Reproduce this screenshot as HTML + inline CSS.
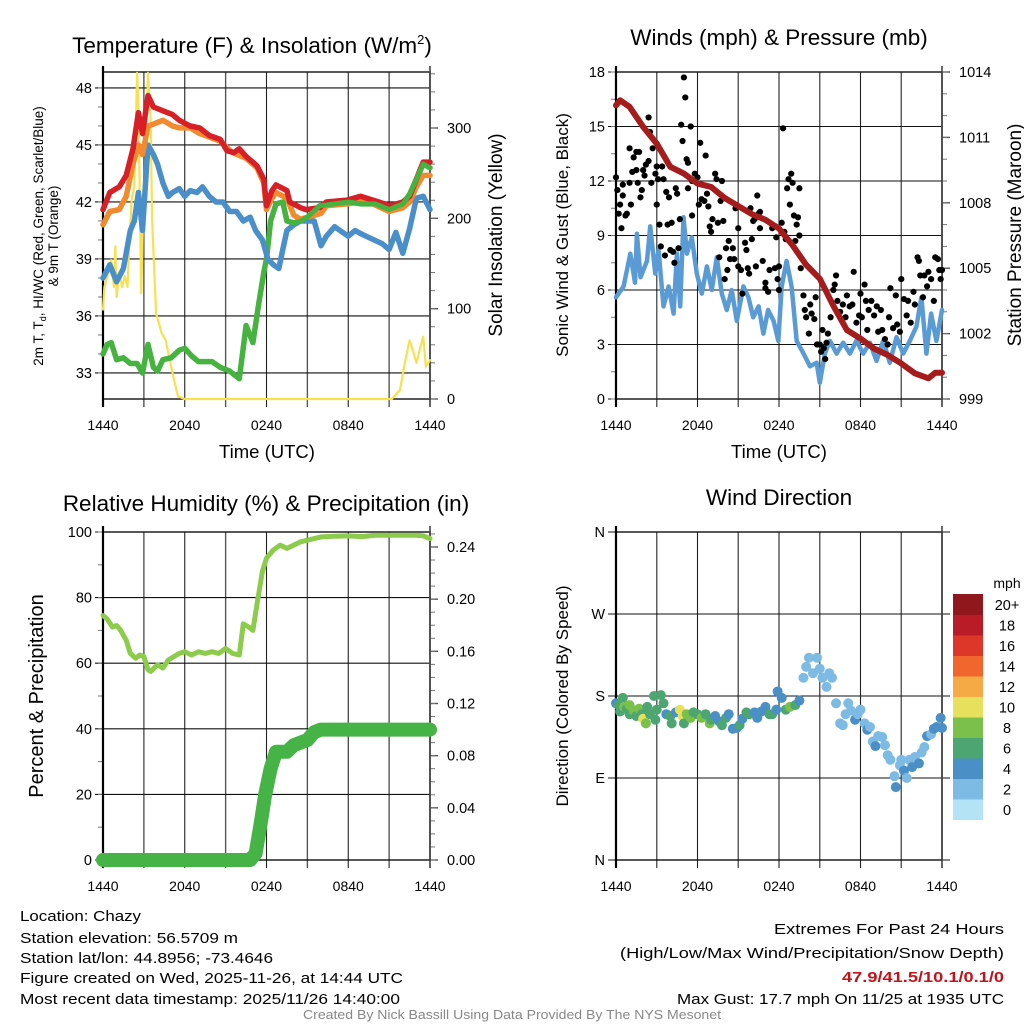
<!DOCTYPE html>
<html><head><meta charset="utf-8">
<style>
html,body{margin:0;padding:0;background:#fff;}
svg{display:block;font-family:"Liberation Sans",sans-serif;}
</style></head>
<body>
<svg id="chart" width="1024" height="1024" viewBox="0 0 1024 1024" xmlns="http://www.w3.org/2000/svg">
<rect width="1024" height="1024" fill="#fff"/>
<g id="layer"></g>
<g font-size="14.5" fill="#000">
<text x="20" y="921" textLength="121" lengthAdjust="spacingAndGlyphs">Location: Chazy</text>
<text x="20" y="943" textLength="218" lengthAdjust="spacingAndGlyphs">Station elevation: 56.5709 m</text>
<text x="20" y="963" textLength="253" lengthAdjust="spacingAndGlyphs">Station lat/lon: 44.8956; -73.4646</text>
<text x="20" y="983" textLength="383" lengthAdjust="spacingAndGlyphs">Figure created on Wed, 2025-11-26, at 14:44 UTC</text>
<text x="20" y="1004" textLength="380" lengthAdjust="spacingAndGlyphs">Most recent data timestamp: 2025/11/26 14:40:00</text>
<text x="1004" y="934" text-anchor="end" textLength="230" lengthAdjust="spacingAndGlyphs">Extremes For Past 24 Hours</text>
<text x="1004" y="958" text-anchor="end" textLength="384" lengthAdjust="spacingAndGlyphs">(High/Low/Max Wind/Precipitation/Snow Depth)</text>
<text x="1004" y="982" text-anchor="end" fill="#c0141c" font-weight="bold" textLength="162" lengthAdjust="spacingAndGlyphs">47.9/41.5/10.1/0.1/0</text>
<text x="1004" y="1004" text-anchor="end" textLength="327" lengthAdjust="spacingAndGlyphs">Max Gust: 17.7 mph On 11/25 at 1935 UTC</text>
<text x="512" y="1019" text-anchor="middle" fill="#888" font-size="12.5" textLength="418" lengthAdjust="spacingAndGlyphs">Created By Nick Bassill Using Data Provided By The NYS Mesonet</text>
</g>
</svg>
<script>
// ---------- DATA ----------
const xTickLabels = ["1440","2040","0240","0840","1440"];
const tempT = [0,0.5,1.2,1.7,2.2,2.6,2.9,3.3,3.7,4.4,5.1,5.6,6.4,7.1,7.8,8.6,9.1,9.6,10,10.5,11.3,11.8,12,12.4,12.7,13.5,13.7,14.5,14.9,15.9,16.4,17.9,18.9,19.8,21.1,22,22.5,23,23.5,24];
const tempF = [41.6,42.5,42.8,43.4,44.8,46.7,45.6,47.6,47,46.8,46.6,46.3,46,45.9,45.5,45.3,44.7,44.6,44.8,44.4,43.9,43.2,41.8,42.6,42.9,42.6,42,41.7,41.6,41.7,42,42.1,42.3,42.1,41.8,42,42.3,43.2,44.1,44.1];
const nineT = [0,0.5,1.2,1.7,2.2,2.6,2.9,3.3,3.7,4.4,5.1,5.6,6.4,7.1,8.6,9.5,10.5,11.3,11.8,12,12.4,12.7,13.5,14,14.5,15,16,16.4,17.9,18.9,19.8,21,22,22.5,23,23.5,24];
const nineF = [40.8,41.5,41.6,42.3,44,45,44.5,46,46.1,46.3,46,45.9,45.9,45.6,45.2,44.6,44.3,43.8,43,41.6,42.2,42.5,42.2,41.3,41.1,41.2,41.4,41.8,41.9,42,41.9,41.5,41.7,42,42.8,43.4,43.4];
const chillT = [0,0.5,1,1.5,2,2.3,2.6,2.9,3.3,3.7,4,4.4,4.8,5.1,5.6,6,6.4,6.9,7.3,7.8,8.3,8.8,9.3,9.8,10.3,10.8,11.2,11.7,12.1,12.5,12.9,13.2,13.5,14,14.5,15.5,16,16.4,17,18,18.5,19,20.5,21,21.5,22,22.5,23,23.5,24];
const chillF = [38,38.7,37.8,38.5,40.5,41,42.5,40.5,45,44.5,44,43,42.3,42.5,42.7,42.3,42.6,42.5,42.8,42.3,42,42,41.5,41.5,41,41.2,40.5,40,39,38.7,38.5,39.5,40.5,40.8,41,41,39.7,40.2,40.7,40.2,40.5,40.3,39.8,39.5,40.4,39.3,40.6,42.2,42.3,41.6];
const dewT = [0,0.3,0.6,1,1.5,2,2.5,2.9,3.3,3.7,4,4.4,5,5.6,6,6.5,7,7.5,8,8.6,9.3,10,10.5,11,11.4,11.8,12,12.3,12.7,13.2,13.5,14,14.5,15,15.9,17,18,19,20,21,22,22.5,23,23.5,24];
const dewF = [34,34.5,34.6,33.7,33.8,33.5,33.5,33,34.5,33.3,33.1,33.7,33.8,34.2,34.3,33.9,33.6,33.6,33.6,33.3,33.1,32.7,35.5,34.6,36.5,38.3,39,41,41.9,42,41,40.9,41,41.2,41.8,41.9,42,41.9,41.9,41.6,41.9,42.4,43.2,44,43.8];
const solarT = [0,0.1,0.4,0.6,0.8,0.9,1,1.2,1.4,1.6,1.8,1.9,2.1,2.3,2.5,2.6,2.8,2.9,3.1,3.3,3.5,3.6,3.9,4.3,4.6,5,5.5,6,21.2,21.8,22.1,22.5,22.8,23,23.5,23.7,24];
const solarW = [99,124,139,154,124,169,113,139,124,136,124,161,220,235,361,328,117,180,254,361,309,198,95,73,65,36,3,0,0,10,36,65,51,40,69,36,43];
const windT = [0,0.56,1.05,1.4,1.54,1.8,2.28,2.52,2.89,3.13,3.5,3.87,4.24,4.48,4.73,4.97,5.22,5.58,5.95,6.32,6.69,7.05,7.42,7.79,8.16,8.52,8.89,9.38,9.75,10.1,10.5,10.85,11.2,11.6,11.95,12.2,12.56,12.93,13.3,13.8,14.28,14.77,15,15.38,15.75,16.24,16.73,17.22,17.7,18.2,18.69,19.18,19.67,20.16,20.65,21.14,21.63,22.12,22.48,22.85,23.2,23.59,24];
const windMph = [5.6,6.2,8,6.4,9.1,6.7,7.6,9.5,6.9,8.2,5.1,6.2,4.7,8,5.1,10,8,8.9,6.9,5.8,7.3,6,7.8,5.8,4.9,6,4.3,6.2,5.6,4.5,5.1,3.6,4.9,4.3,3.2,6.2,7.6,6.2,3.2,2.5,1.8,2,0.9,2.5,3.2,2.5,3.1,2.5,3.2,2.5,3.1,2.1,3.2,2,3.4,2.5,3.2,4,5.6,2.5,4.7,3.2,4.9];
const gustT = [0,0.1,0.2,0.3,0.4,0.5,0.5,0.7,0.8,1,1,1.1,1.2,1.3,1.5,1.5,1.6,1.7,1.8,1.9,2,2.1,2.2,2.4,2.4,2.5,2.6,2.7,2.9,3,3,3.1,3.2,3.3,3.4,3.5,3.6,3.7,3.8,3.9,4,4.1,4.2,4.3,4.4,4.5,4.6,4.7,4.8,4.9,5,5.1,5.2,5.3,5.3,5.5,5.6,5.6,5.8,6,6.1,6.2,6.3,6.5,6.6,6.7,6.8,6.9,7,7.1,7.3,7.4,7.5,7.6,7.7,7.8,7.9,8,8.1,8.2,8.3,8.4,8.6,8.7,8.8,9,9,9.2,9.3,9.5,9.6,9.7,9.8,9.9,10,10.1,10.2,10.3,10.4,10.5,10.6,10.6,10.8,11,11,11.2,11.3,11.5,11.7,11.8,11.9,12,12,12.2,12.3,12.4,12.5,12.6,12.7,12.8,12.9,13,13.1,13.2,13.3,13.4,13.5,13.5,13.6,13.8,13.9,14,14.2,14.3,14.4,14.6,14.7,14.8,15,15.1,15.2,15.3,15.4,15.5,15.6,15.8,16,16.1,16.2,16.3,16.5,16.6,16.7,16.9,17,17.2,17.4,17.5,17.7,17.9,18,18.1,18.3,18.4,18.5,18.6,18.8,19,19.2,19.3,19.5,19.6,19.8,20,20.1,20.2,20.4,20.6,20.7,20.9,21,21.2,21.4,21.5,21.7,21.9,22,22.2,22.3,22.4,22.6,22.7,22.9,23,23.2,23.4,23.5,23.7,23.8,23.9,24];
const gustMph = [12.2,11.5,10.2,10.7,9.4,11.8,11.2,10.1,10.2,13.8,11.9,10.7,12.5,13.3,13.6,12.6,11.9,13.6,11.1,11.5,12.6,12.3,12.9,13.1,15.5,14.7,11.9,13.8,12.4,10.7,12.8,12.1,9.6,8.4,12.8,12.1,7.9,11.4,9.6,11.1,8.2,9.7,8.1,7.5,11.6,11.3,8.3,9.9,15.1,14.2,17.7,16.6,13.2,13,11.6,15,10.1,12,12.4,12.2,10.7,14.1,11,10.9,13.4,11.3,10.6,9.5,9.2,9.9,12.4,12.1,9.7,7.8,10.9,12,9.8,6.6,8.3,7.1,8.7,7.7,8.3,7.7,10.5,7.3,9.4,7.1,5.8,8.6,8.2,7.2,6.9,10.5,8.8,9.8,9.9,7.3,11.2,10.2,10.3,9.4,7.6,6.4,6.1,5.9,7.1,9.4,7.2,8.9,6.6,6,7.3,9.7,14.9,9.2,8.8,11.6,12.1,10.7,12.4,11.9,10.1,8.7,9.6,10,11.6,9,7.2,5.7,4.9,4.5,3.6,5.2,4.7,4.4,5.6,3,3,2.6,3.8,2.8,2.2,3.1,3.6,4.5,6,6.3,6.8,5.4,4.8,4.4,5.2,4.5,5.7,5.1,5.2,7,4.2,4.6,5.8,4.5,6.3,5.4,3.8,4.9,5.4,4.6,5.1,3.7,4.9,3.8,3.3,3,4.5,6.1,3.9,5.7,4.1,3.7,6.6,5.5,4.6,5.4,4.2,5.9,5.2,7.8,7.6,6.8,5.6,6.8,6.2,7,6.6,5.4,7.8,7.7,7.1,6.6,7.1];
const presT = [0,0.3,1,2,3,4,5,6,7,8,9,10,11,12,13,14,15,16,17,18,19,20,21,22,23,23.5,24];
const presMb = [1012.47,1012.7,1012.4,1011.48,1010.71,1009.65,1009.34,1008.88,1008.73,1008.22,1007.85,1007.48,1007.22,1006.82,1006.05,1005.15,1004.52,1003.28,1002.16,1001.77,1001.31,1001.02,1000.63,1000.18,999.95,1000.2,1000.2];
const rhT = [0,0.3,0.7,1,1.3,1.7,2,2.4,2.7,3,3.3,3.5,4,4.4,4.8,5.2,5.6,6,6.5,7,7.5,8,8.5,9,9.5,10,10.3,10.7,11,11.3,11.7,12,12.5,13,13.5,14,14.5,15,16,17,18,19,20,21,22,23,23.5,24];
const rhPct = [74.5,73.5,71,71.5,70,67,63,61.5,62.5,62,58,57.5,59.5,58.5,61,62,63,63.5,62.5,63.5,63,63.5,63,64.5,63,62.5,72,71,70,78,88,92,94.5,96,95,96,97,97.5,98.5,98.7,98.8,98.6,99,99,99,99,98.8,98];
const precT = [0,10.8,11.2,11.6,11.9,12.3,12.7,13.5,14,14.5,15,15.5,16,24];
const precIn = [0,0,0.005,0.03,0.05,0.07,0.083,0.083,0.088,0.09,0.092,0.098,0.1,0.1];
const dirT = [0,0.2,0.3,0.5,0.6,0.8,1,1,1.3,1.5,1.7,1.9,2,2.2,2.3,2.5,2.8,2.9,3,3.3,3.5,3.7,4,4.1,4.4,4.7,4.9,5,5.2,5.5,5.7,6,6.3,6.6,6.9,7,7.3,7.6,7.8,8.1,8.3,8.6,8.9,9.1,9.3,9.6,9.8,10.2,10.4,10.7,11,11.3,11.5,11.8,11.9,12.2,12.5,12.8,13.2,13.5,13.8,14,14.2,14.5,14.8,15,15.2,15.5,15.7,15.9,16.2,16.5,16.7,16.9,17.1,17.3,17.6,17.8,18,18.3,18.5,18.7,18.9,19.1,19.3,19.6,19.8,20,20.2,20.5,20.6,20.9,21,21.2,21.4,21.6,21.8,22,22.3,22.5,22.7,22.9,23.2,23.4,23.6,23.9,24];
const dirDeg = [172,170,163,178,168,166,160,170,164,158,166,160,155,150,168,160,180,154,165,181,172,160,158,150,162,165,158,150,160,156,162,160,156,160,150,154,158,152,148,156,160,144,145,148,155,162,160,162,156,163,168,160,160,165,185,178,165,168,170,175,200,212,222,205,222,210,200,190,205,200,172,150,148,160,172,164,154,160,165,150,143,146,130,125,136,135,126,115,110,92,80,104,110,98,90,110,102,113,106,118,124,136,138,144,146,156,145];
const dirSpd = [4,6,6,6,8,6,6,8,8,6,8,6,10,8,6,6,6,6,6,6,6,4,6,6,4,10,10,6,8,8,6,6,8,6,8,6,4,4,6,6,4,4,4,6,4,6,6,4,4,4,4,6,6,4,4,4,6,8,6,4,2,2,2,2,2,2,2,2,2,2,2,2,2,2,2,2,4,2,2,2,4,2,2,4,2,2,2,2,2,2,4,2,2,4,2,2,4,2,4,2,2,4,2,4,4,4,4];
const speedBins = ["0","2","4","6","8","10","12","14","16","18","20+"];
const speedColors = ["#b5e3f6","#7dbbe4","#4a8fc5","#4da671","#7cc04c","#e6e05c","#f6aa46","#f0662c","#dd3729","#b91c26","#90181c"];

const NS="http://www.w3.org/2000/svg";
const layer=document.getElementById('layer');
function mk(tag,attrs,parent){const e=document.createElementNS(NS,tag);for(const k in attrs)e.setAttribute(k,attrs[k]);(parent||layer).appendChild(e);return e;}
function txt(s,attrs,parent){const e=mk('text',attrs,parent);e.textContent=s;return e;}
function lin(d0,d1,r0,r1){return v=>r0+(v-d0)/(d1-d0)*(r1-r0);}
function pathOf(xs,ys,fx,fy){return xs.map((t,i)=>(i?'L':'M')+fx(t).toFixed(1)+','+fy(ys[i]).toFixed(1)).join('');}

function panel(P){
  const g=mk('g',{});
  
  
  const fx=lin(0,24,P.x0,P.x1);
  for(let h=0;h<=24;h+=3){
    const x=fx(h);
    const l=mk('line',{x1:x,x2:x,y1:P.y0,y2:P.y1+8,stroke:(h%6==3)?'#555':'#222','stroke-width':(h%6==3)?1.4:1.1},g);
    
    
  }
  xTickLabels.forEach((s,i)=>{
    const t=txt(s,{x:fx(i*6),y:P.y1+31,'text-anchor':'middle','font-size':14},g);
    
    
  });
  const fyL=lin(P.lmin,P.lmax,P.y1,P.y0);
  P.lticks.forEach((v,i)=>{
    const y=fyL(v);
    const l=mk('line',{x1:P.x0-8,x2:P.x1+(P.rticks?0:8),y1:y,y2:y,stroke:'#111','stroke-width':1.1},g);
    
    
    const t=txt(P.llabels?P.llabels[i]:String(v),{x:P.x0-11,y:y+5,'text-anchor':'end','font-size':14.5},g);
    
    
  });
  if(P.lminor){for(let v=P.lminor[0];v<=P.lmax;v+=P.lminor[1]){const y=fyL(v);if(y<P.y0||y>P.y1)continue;mk('line',{x1:P.x0-5,x2:P.x0,y1:y,y2:y,stroke:'#777','stroke-width':1},g);}}
  if(P.rticks){
    const fyR=lin(P.rmin,P.rmax,P.y1,P.y0);
    P.rticks.forEach((v,i)=>{
      const y=fyR(v);
      mk('line',{x1:P.x1,x2:P.x1+8,y1:y,y2:y,stroke:'#555','stroke-width':1.4},g);
      const t=txt(P.rlabels[i],{x:P.x1+17,y:y+5,'font-size':14.5},g);
      
      
    });
    for(let v=P.rminor[0];v<=P.rmax+1e-9;v+=P.rminor[1]){const y=fyR(v);if(y<P.y0-1||y>P.y1)continue;mk('line',{x1:P.x1,x2:P.x1+5,y1:y,y2:y,stroke:'#777','stroke-width':1},g);}
  }
  const f=mk('rect',{x:P.x0,y:P.y0,width:P.x1-P.x0,height:P.y1-P.y0,fill:'none',stroke:'#111','stroke-width':1.4},g);
  
  
  mk('line',{x1:P.x0,x2:P.x0,y1:P.y0-6,y2:P.y1+8,stroke:'#000','stroke-width':2.2},g);
  mk('line',{x1:P.x1,x2:P.x1,y1:P.y0-6,y2:P.y1+8,stroke:'#444','stroke-width':1.6},g);
  return {g,fx,fyL,fyR:P.rticks?lin(P.rmin,P.rmax,P.y1,P.y0):null};
}
function series(g,name,xs,ys,fx,fy,color,w){
  const p=mk('path',{d:pathOf(xs,ys,fx,fy),fill:'none',stroke:color,'stroke-width':w,'stroke-linejoin':'round','stroke-linecap':'round'},g);
  
  
  return p;
}

const p1=panel({name:'temperature-panel',x0:103,x1:430,y0:72,y1:399,lmin:31.63,lmax:48.84,lticks:[33,36,39,42,45,48],lminor:[33,1],rmin:0,rmax:362,rticks:[0,100,200,300],rlabels:['0','100','200','300'],rminor:[0,20]});
series(p1.g,'insolation-line',solarT,solarW,p1.fx,p1.fyR,'#f7e150',2.2);
series(p1.g,'dewpoint-line',dewT,dewF,p1.fx,p1.fyL,'#46b23f',5.5);
series(p1.g,'windchill-line',chillT,chillF,p1.fx,p1.fyL,'#4b8fca',5.5);
series(p1.g,'nine-m-temp-line',nineT,nineF,p1.fx,p1.fyL,'#f28a30',5.5);
series(p1.g,'temperature-line',tempT,tempF,p1.fx,p1.fyL,'#d61f26',5.5);
series(p1.g,'dewpoint-line-top',dewT.slice(27),dewF.slice(27),p1.fx,p1.fyL,'#46b23f',5);
{
const t=txt('Temperature (F) & Insolation (W/m',{x:252,y:53,'text-anchor':'middle','font-size':22.5});

const s=mk('tspan',{dy:-9,'font-size':13});s.textContent='2';t.appendChild(s);
const s2=mk('tspan',{dy:9});s2.textContent=')';t.appendChild(s2);
const a=txt('Time (UTC)',{x:267,y:458,'text-anchor':'middle','font-size':18.5});

const y1=mk('text',{x:0,y:0,'text-anchor':'middle','font-size':13.5,transform:'translate(43,236) rotate(-90)'});

y1.innerHTML='2m T, T<tspan dy="3" font-size="9">d</tspan><tspan dy="-3">, HI/WC (Red, Green, Scarlet/Blue)</tspan>';
const y2=txt('& 9m T (Orange)',{x:0,y:0,'text-anchor':'middle','font-size':13.5,transform:'translate(58,236) rotate(-90)'});

const r=txt('Solar Insolation (Yellow)',{x:0,y:0,'text-anchor':'middle','font-size':19,transform:'translate(502,235) rotate(-90)'});

}

const p2=panel({name:'winds-panel',x0:616,x1:942,y0:72,y1:399,lmin:0,lmax:18,lticks:[0,3,6,9,12,15,18],lminor:[0,1.5],rmin:999,rmax:1014,rticks:[999,1002,1005,1008,1011,1014],rlabels:['999','1002','1005','1008','1011','1014'],rminor:[999,1]});
series(p2.g,'sonic-wind-line',windT,windMph,p2.fx,p2.fyL,'#5a9bd5',4.5);
gustT.forEach((t,i)=>{
  const c=mk('circle',{cx:p2.fx(t),cy:p2.fyL(gustMph[i]),r:3.1,fill:'#000'},p2.g);
  
  
});
series(p2.g,'pressure-line',presT,presMb,p2.fx,p2.fyR,'#a51c1c',6);
{
const t=txt('Winds (mph) & Pressure (mb)',{x:779,y:45,'text-anchor':'middle','font-size':22.5});

const a=txt('Time (UTC)',{x:779,y:458,'text-anchor':'middle','font-size':18.5});

const l=txt('Sonic Wind & Gust (Blue, Black)',{x:0,y:0,'text-anchor':'middle','font-size':17,transform:'translate(568,235) rotate(-90)'});

const r=txt('Station Pressure (Maroon)',{x:0,y:0,'text-anchor':'middle','font-size':19,transform:'translate(1021,235) rotate(-90)'});

}

const p3=panel({name:'humidity-panel',x0:103,x1:430,y0:532,y1:860,lmin:0,lmax:100,lticks:[0,20,40,60,80,100],lminor:[0,10],rmin:0,rmax:0.2515,rticks:[0,0.04,0.08,0.12,0.16,0.20,0.24],rlabels:['0.00','0.04','0.08','0.12','0.16','0.20','0.24'],rminor:[0,0.01]});
series(p3.g,'humidity-line',rhT,rhPct,p3.fx,p3.fyL,'#8dcb4c',5);
series(p3.g,'precipitation-line',precT,precIn,p3.fx,p3.fyR,'#46b346',14);
{
const t=txt('Relative Humidity (%) & Precipitation (in)',{x:266,y:511,'text-anchor':'middle','font-size':22.5});

const l=txt('Percent & Precipitation',{x:0,y:0,'text-anchor':'middle','font-size':20,transform:'translate(43,696) rotate(-90)'});

}

const p4=panel({name:'wind-direction-panel',x0:616,x1:942,y0:532,y1:860,lmin:0,lmax:360,lticks:[0,90,180,270,360],llabels:['N','E','S','W','N']});
const spdColor=s=>speedColors[Math.min(10,Math.floor(s/2))];
dirT.forEach((t,i)=>{
  const c=mk('circle',{cx:p4.fx(t),cy:p4.fyL(dirDeg[i]),r:5,fill:spdColor(dirSpd[i])},p4.g);
  
  
});
{
const t=txt('Wind Direction',{x:779,y:505,'text-anchor':'middle','font-size':22.5});

const l=txt('Direction (Colored By Speed)',{x:0,y:0,'text-anchor':'middle','font-size':17,transform:'translate(568,696) rotate(-90)'});

const lg=mk('g',{});

const u=txt('mph',{x:1007,y:588,'text-anchor':'middle','font-size':14},lg);

const top=594,h=20.5;
speedBins.forEach((s,i)=>{
  const y=top+(10-i)*h;
  const r=mk('rect',{x:953,y:y,width:30,height:h+0.5,fill:speedColors[i]},lg);
  
  const tl=txt(s,{x:1007,y:y+h/2+5.5,'text-anchor':'middle','font-size':14.5},lg);
  
});
}
</script>
</body></html>
